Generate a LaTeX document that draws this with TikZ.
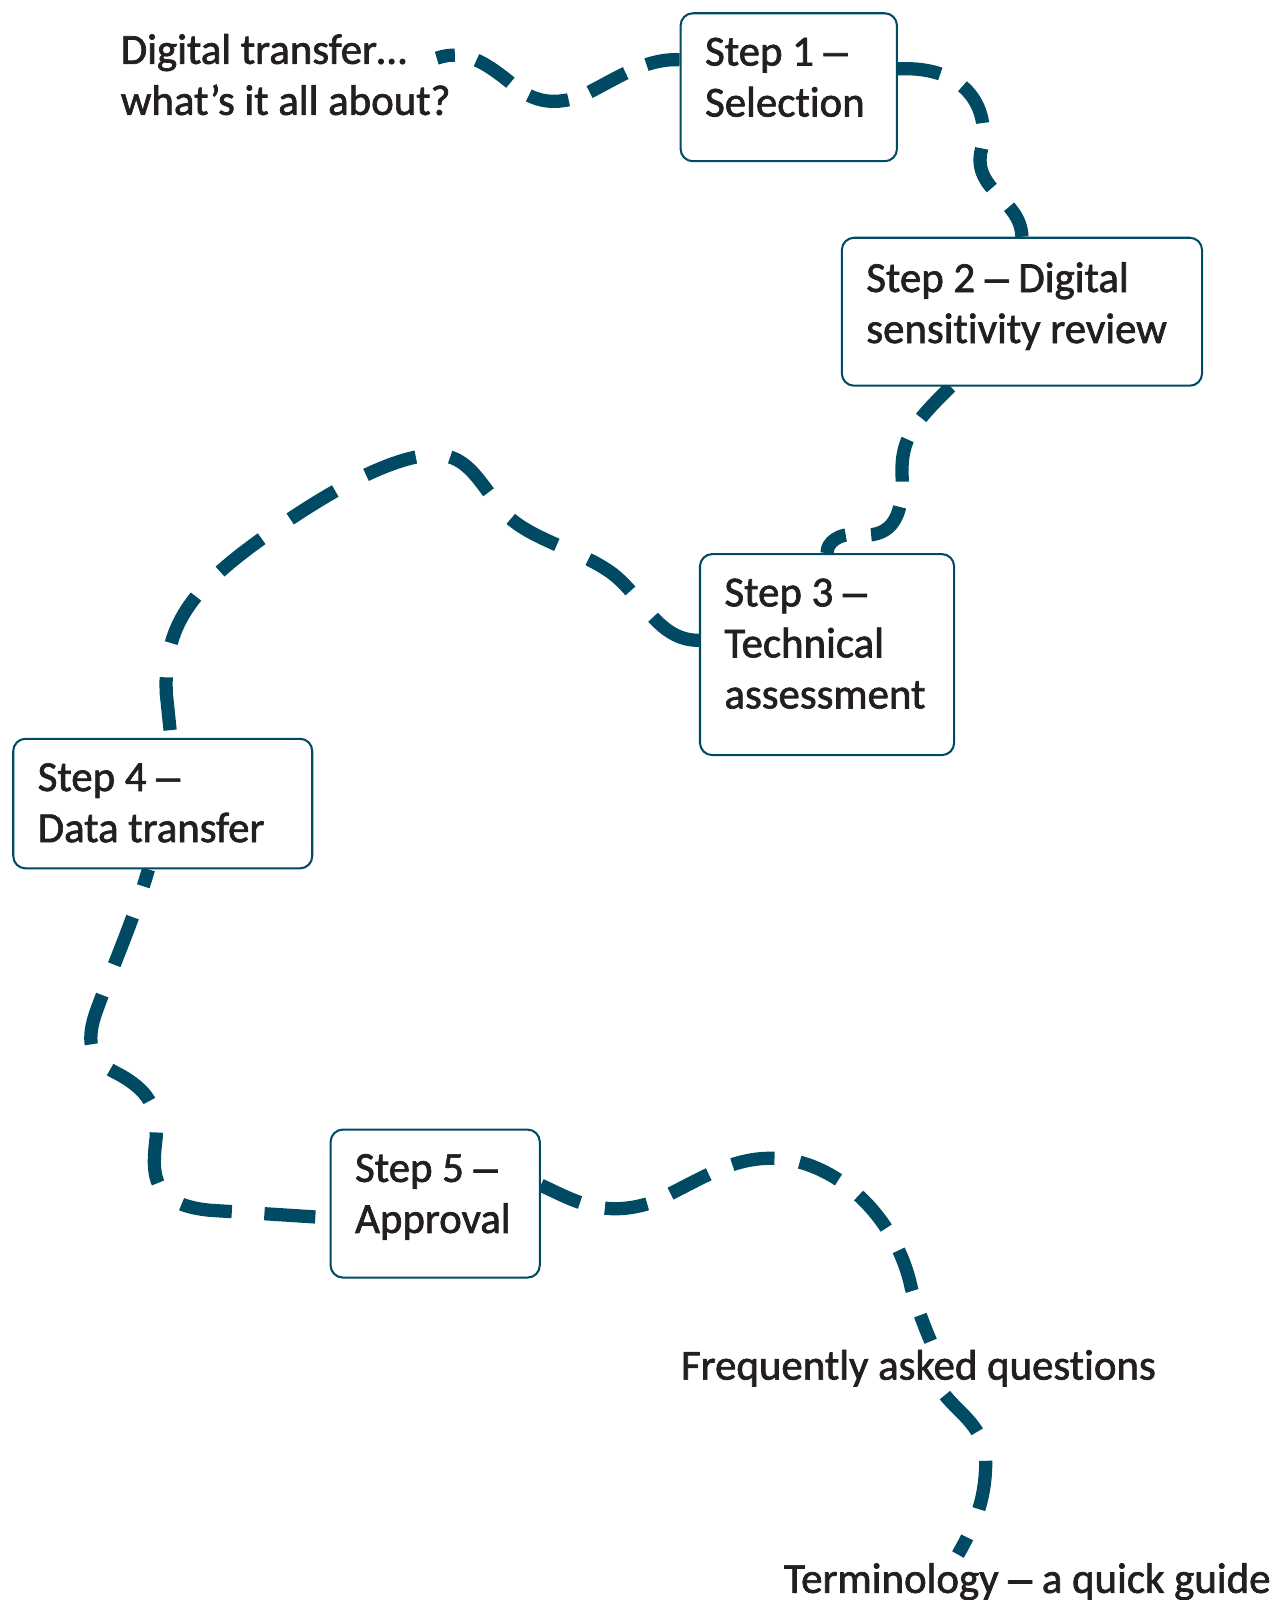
\documentclass[tikz,border=0pt]{standalone}
\usepackage{fontspec}
\setmainfont{Carlito}[Ligatures=NoCommon, FakeBold=1.6]
\newfontfamily\dashfont{Liberation Sans}[FakeBold=1.6]
\usetikzlibrary{backgrounds}
\definecolor{pathblue}{HTML}{004B63}
\definecolor{inkgrey}{HTML}{231F20}
\tikzset{
  stepbox/.style={draw=pathblue, line width=1pt, fill=white, rounded corners=6pt,
    anchor=north west, inner xsep=12pt, inner ysep=12pt, text=inkgrey},
  trail/.style={draw=pathblue, line width=6.5pt, dash pattern=on 21pt off 12.5pt},
  longtrail/.style={trail, dash pattern=on 26pt off 17pt},
  tag/.style={text=inkgrey, inner xsep=0pt, inner ysep=4pt, align=left}
}
\newcommand{\boxtext}[3]{\parbox[t][#2][t]{#1}{\raggedright #3}}
\newcommand{\dashmark}{{\dashfont –}}
\begin{document}
\begin{tikzpicture}[x=0.5pt, y=-0.5pt, font=\fontsize{21}{25}\selectfont]
        \useasboundingbox (0,0) rectangle (1256,1568);

        \node[tag, anchor=north west] (intro) at (118,25) {Digital transfer…\\what’s it all about?};
        \node[stepbox] (s1) at (666,12) {\boxtext{82pt}{48.5pt}{Step 1 \dashmark\\Selection}};
        \node[stepbox] (s2) at (824,232) {\boxtext{152.5pt}{48.5pt}{Step 2 \dashmark{} Digital\\sensitivity review}};
        \node[stepbox] (s3) at (685,542) {\boxtext{100.5pt}{74.5pt}{Step 3 \dashmark\\Technical\\assessment}};
        \node[stepbox] (s4) at (12,723) {\boxtext{122.5pt}{39.5pt}{Step 4 \dashmark\\Data transfer}};
        \node[stepbox] (s5) at (323,1106) {\boxtext{78.5pt}{48.5pt}{Step 5 \dashmark\\Approval}};
        \node[tag, anchor=base west] (faq) at (667,1352) {Frequently asked questions};
        \node[tag, anchor=base west] (term) at (768,1561) {Terminology \dashmark{} a quick guide};
        \coordinate (lead) at (428,57);

        \begin{scope}[on background layer]
        \draw[trail, dash pattern=on 20pt off 11pt, dash phase=11pt] (lead)
            .. controls (455,48) and (475,60) .. (505,85)
            .. controls (525,101) and (545,103) .. (570,94)
            .. controls (600,80) and (630,57) .. ([yshift=13.5pt]s1.west);
        \draw[trail] ([yshift=9pt]s1.east) .. controls (950,64) and (972,110) .. (961,150)
            .. controls (955,188) and (1000,195) .. (s2.north);
        \draw[trail] ([xshift=-35pt]s2.south) .. controls (895,415) and (883,430) .. (884,465)
            .. controls (886,515) and (868,527) .. (840,524)
            .. controls (822,522) and (810,532) .. (s3.north);
        \draw[longtrail] ([yshift=7pt]s3.west) .. controls (645,628) and (630,585) .. (600,562)
            .. controls (570,540) and (525,530) .. (500,508)
            .. controls (470,478) and (462,442) .. (420,446)
            .. controls (375,450) and (310,490) .. (262,524)
            .. controls (185,578) and (160,615) .. (163,680) -- ([xshift=4pt]s4.north);
        \draw[longtrail, dash pattern=on 25pt off 16pt, dash phase=34pt] ([yshift=-7pt]s5.west) -- (205,1186)
            .. controls (147,1180) and (149,1150) .. (153,1115)
            .. controls (155,1085) and (145,1068) .. (115,1052)
            .. controls (95,1042) and (82,1030) .. (93,995)
            .. controls (105,960) and (130,905) .. ([xshift=-7pt]s4.south);
        \draw[trail] ([yshift=9pt]s5.east) .. controls (560,1175) and (590,1195) .. (640,1178)
            .. controls (690,1155) and (720,1130) .. (770,1136)
            .. controls (830,1145) and (880,1200) .. (893,1262)
            .. controls (900,1285) and (906,1300) .. ([xshift=6pt]faq.north);
        \draw[trail, dash pattern=on 24pt off 15pt] ([xshift=13pt]faq.south)
            .. controls (940,1385) and (966,1400) .. (966,1432)
            .. controls (966,1470) and (955,1495) .. ([xshift=-34pt]term.north);
        \end{scope}
    \end{tikzpicture}
\end{document}
